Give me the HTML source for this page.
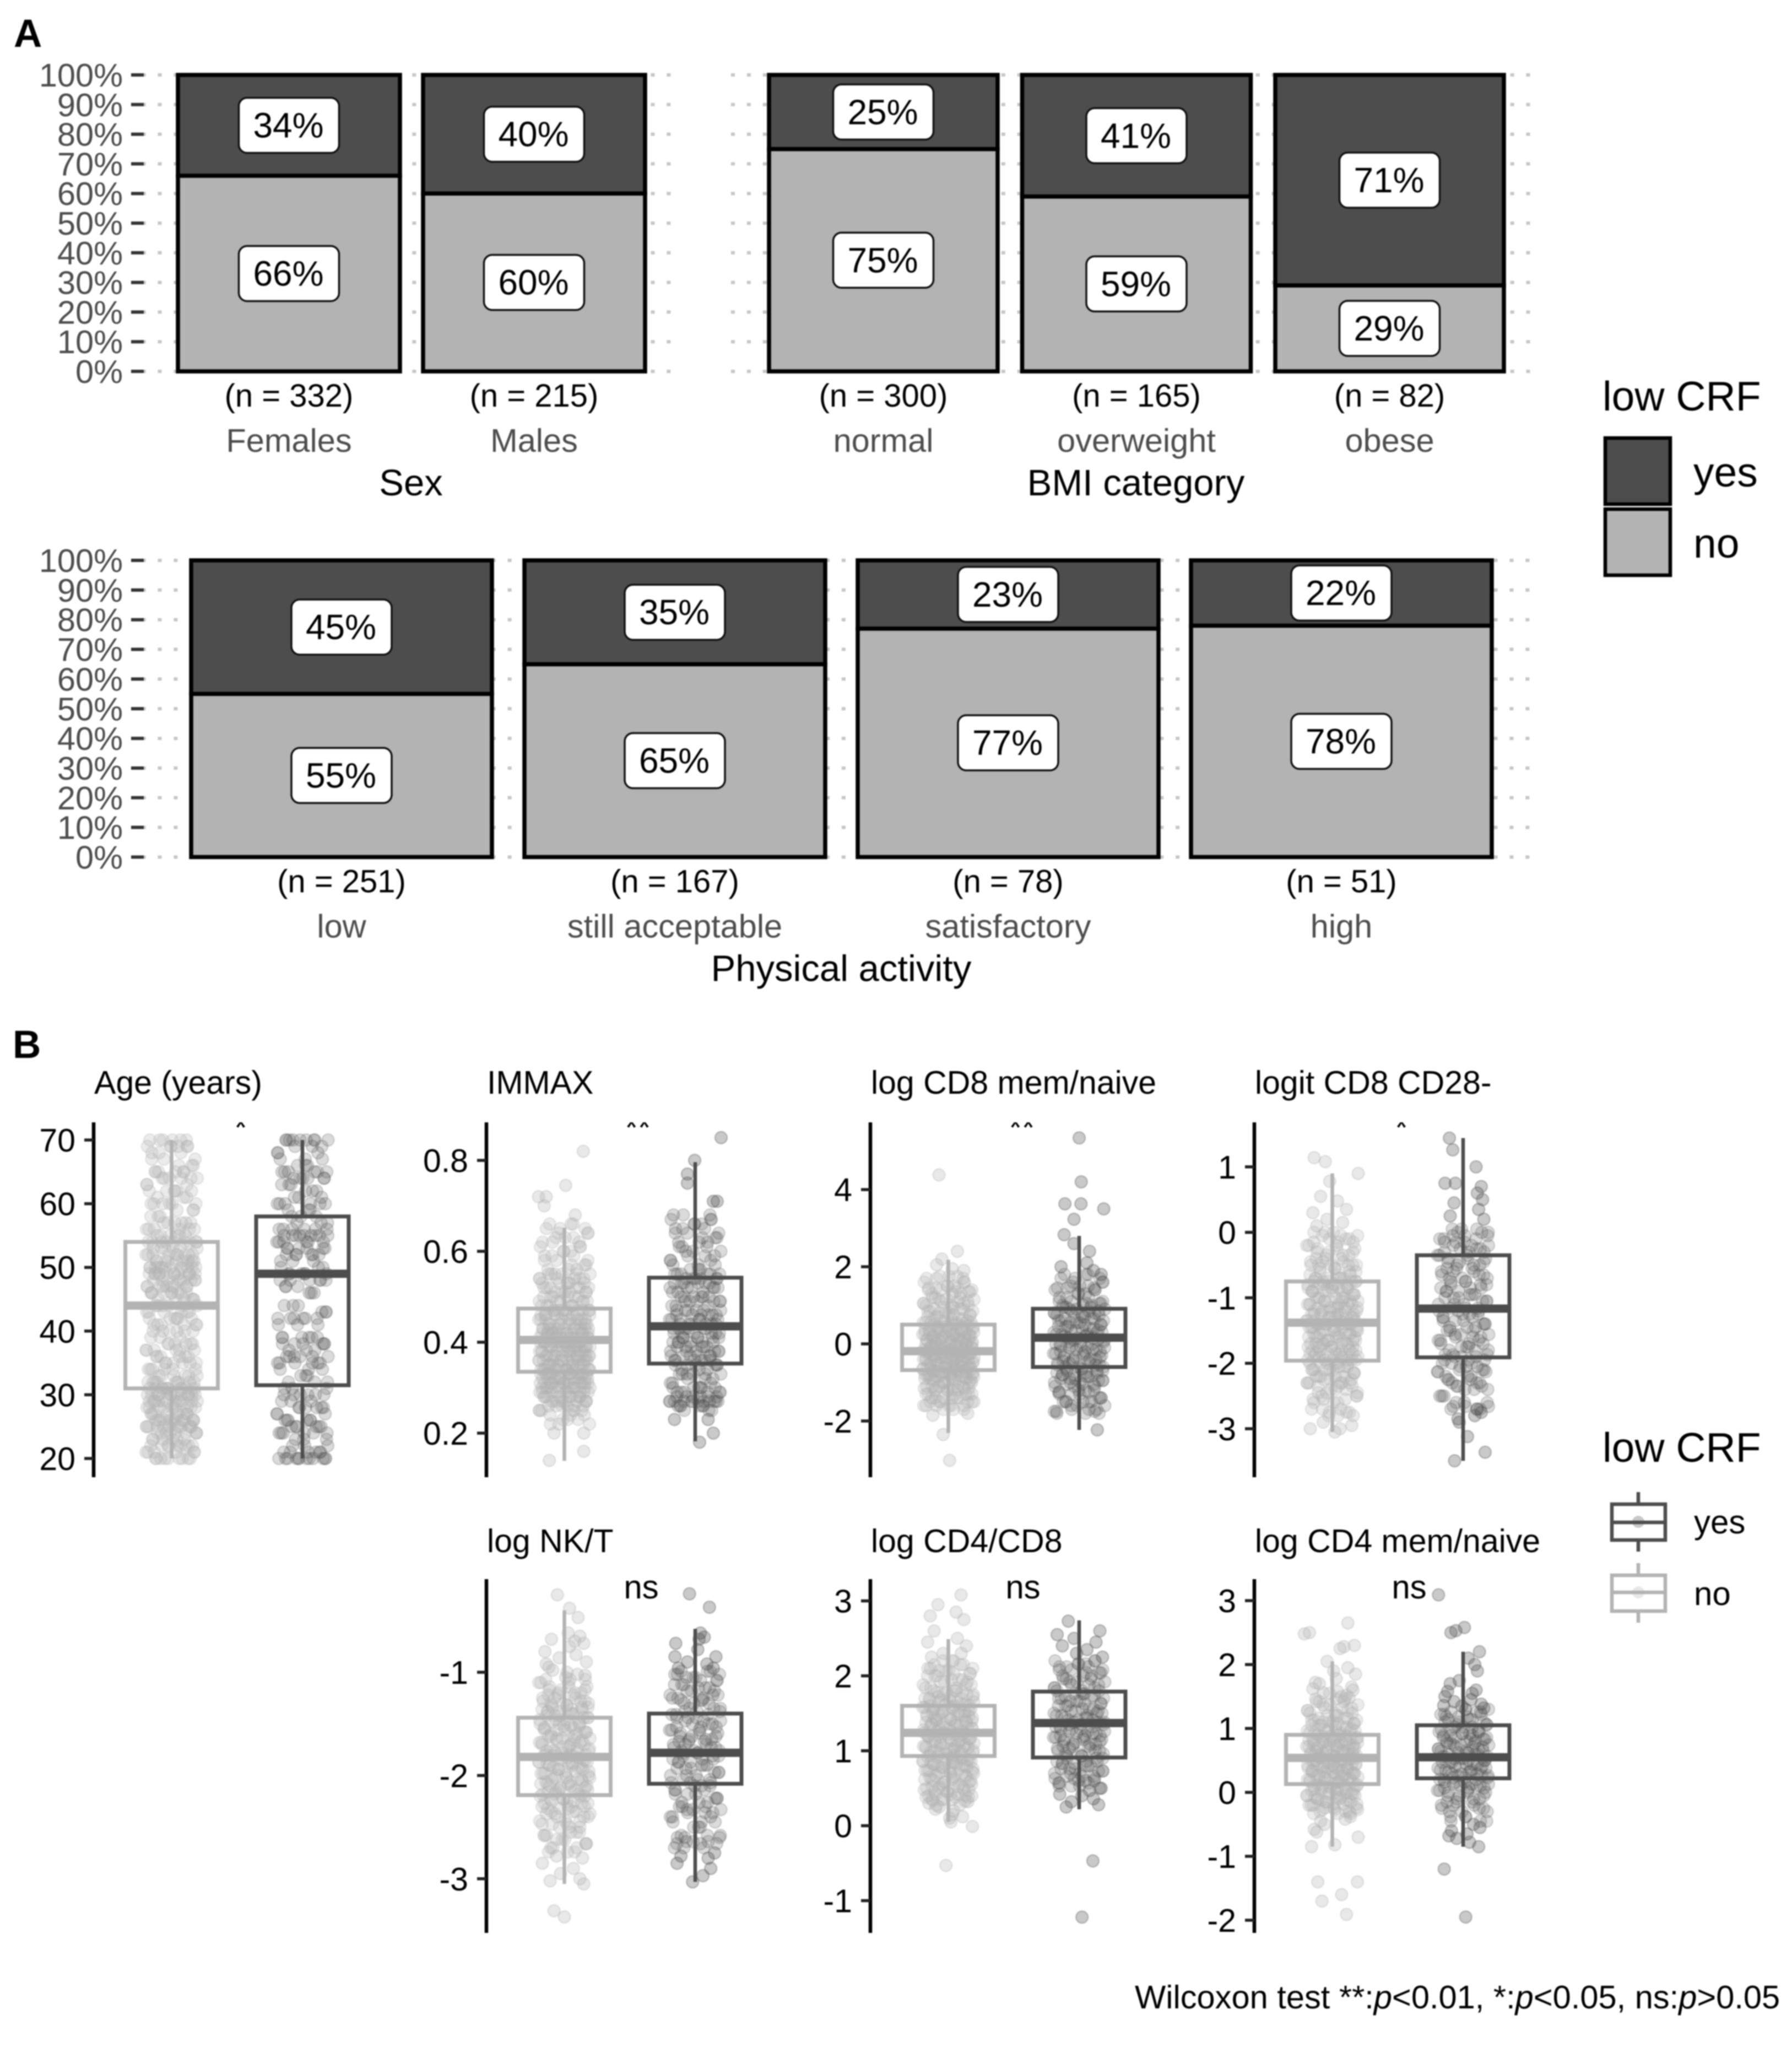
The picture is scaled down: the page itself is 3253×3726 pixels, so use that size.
<!DOCTYPE html>
<html lang="en">
<head>
<meta charset="utf-8">
<title>Low CRF figure</title>
<style>
html,body{margin:0;padding:0;background:#fff;}
svg{display:block;filter:blur(1.1px);}
text{font-family:"Liberation Sans",sans-serif;}
</style>
</head>
<body>
<svg id="figure" xmlns="http://www.w3.org/2000/svg" width="3253" height="3726" viewBox="0 0 3253 3726">
<rect x="0" y="0" width="3253" height="3726" fill="#fff"/>
<text x="25" y="85" font-size="71" font-weight="bold">A</text>
<text x="23" y="1920" font-size="71" font-weight="bold">B</text>

<g>
<text x="2909" y="745" font-size="75">low CRF</text>
<rect x="2914" y="795" width="118" height="120" fill="#4d4d4d" stroke="#000" stroke-width="6.5"/>
<rect x="2914" y="924" width="118" height="120" fill="#b3b3b3" stroke="#000" stroke-width="6.5"/>
<text x="3074" y="883" font-size="75">yes</text>
<text x="3074" y="1012" font-size="75">no</text>
</g>

<g>
<text x="2909" y="2653" font-size="75">low CRF</text>
<g fill="none" stroke="#4d4d4d" stroke-width="6.5">
<line x1="2974" y1="2708" x2="2974" y2="2728"/><line x1="2974" y1="2796" x2="2974" y2="2816"/>
<circle cx="2974" cy="2762" r="11" fill="#4d4d4d" fill-opacity=".3" stroke="none"/>
<rect x="2926" y="2730" width="97" height="65"/><line x1="2926" y1="2763" x2="3023" y2="2763"/>
</g>
<g fill="none" stroke="#b3b3b3" stroke-width="6.5">
<line x1="2974" y1="2837" x2="2974" y2="2857"/><line x1="2974" y1="2925" x2="2974" y2="2945"/>
<circle cx="2974" cy="2890" r="11" fill="#b3b3b3" fill-opacity=".3" stroke="none"/>
<rect x="2926" y="2859" width="97" height="65"/><line x1="2926" y1="2890" x2="3023" y2="2890"/>
</g>
<text x="3075" y="2783" font-size="60">yes</text>
<text x="3075" y="2913" font-size="60">no</text>
</g>

<text x="2060" y="3645" font-size="59.6">Wilcoxon test **:<tspan font-style="italic">p</tspan>&lt;0.01, *:<tspan font-style="italic">p</tspan>&lt;0.05, ns:<tspan font-style="italic">p</tspan>&gt;0.05</text>
</svg>

<script>
// ---------- Panel A data ----------
const pctTicks = [0,10,20,30,40,50,60,70,80,90,100];
const pctTickLabels = ['0%','10%','20%','30%','40%','50%','60%','70%','80%','90%','100%'];

const sexCategories = ['Females','Males'];
const sexCounts = ['(n = 332)','(n = 215)'];
const sexYesPct = [34,40];

const bmiCategories = ['normal','overweight','obese'];
const bmiCounts = ['(n = 300)','(n = 165)','(n = 82)'];
const bmiYesPct = [25,41,71];

const activityCategories = ['low','still acceptable','satisfactory','high'];
const activityCounts = ['(n = 251)','(n = 167)','(n = 78)','(n = 51)'];
const activityYesPct = [45,35,23,22];

// ---------- Panel B data ----------
// Horizontal jitter read as fractions of the jitter band, shared between groups.
const jitterFractions = [-.62,.41,-.13,.87,-.91,.22,.66,-.38,.05,-.74,.95,-.21,.53,-.55,.31,-.97,.74,.12,-.44,.83,-.08,-.69,.47,.2,-.86,.6,-.29,.99,-.5,.15,.78,-.77,.36,-.02,-.93,.57,-.33,.9,-.16,.26,-.65,.7,-.47,.09,.93,-.82,.43,-.25,.64,-.59,.18,-.99,.81,-.11,.33,-.71,.5,-.4,.97,-.06,.24,-.88,.68,-.31,.39,-.52,.85,.02,-.79,.58,-.19,.11,-.95,.75,-.36,.45,-.64,.28,.91,-.48,-.04,.62,-.84,.35,-.23,.8,-.57,.16,-.72,.52,.98,-.27,-.9,.07,.72,-.42,.3,-.67,.88,-.14,.55,-.8,.21,-.34,.94,-.54,.13,.77,-.96,.38,-.09,-.61,.48,.84,-.3,-.76,.25,.6,-.46,.03,.92,-.7,.34,-.18,-.86,.67,.1,-.53,.79,-.37];
// Each listed value stands for about this many participants at that level.
const participantsPerValue = 3;

const ageTicks = [20,30,40,50,60,70];
const ageTickLabels = ['20','30','40','50','60','70'];
const ageNoBox = [20,31,44,54,70];
const ageYesBox = [20,31.5,49,58,70];
const ageNoValues = [20,20,20,21,21,22,22,22,23,23,24,24,24,25,25,25,25,26,26,26,26,27,27,27,28,28,28,29,29,29,29,30,30,30,30,31,31,31,31,32,32,32,33,33,34,34,35,35,36,36,37,37,38,38,39,40,40,41,41,42,42,43,43,44,44,45,45,46,46,46,47,47,47,48,48,48,49,49,49,49,50,50,50,50,51,51,51,52,52,52,53,53,54,54,54,55,55,56,56,57,57,58,59,60,60,61,62,62,63,64,64,65,65,66,67,68,69,69,70,70];
const ageYesValues = [20,20,20,20,21,21,22,23,24,24,25,25,26,26,27,28,28,29,30,30,31,32,33,34,35,35,36,36,37,38,38,39,39,41,42,42,43,44,46,47,48,48,49,49,50,51,52,52,53,53,54,54,55,55,55,56,56,57,58,59,60,60,61,62,63,64,64,65,65,66,67,68,69,70,70,70];
const ageNoExtremeJitter = [];
const ageNoExtremeValues = [];
const ageYesExtremeJitter = [];
const ageYesExtremeValues = [];

const immaxTicks = [.2,.4,.6,.8];
const immaxTickLabels = ['0.2','0.4','0.6','0.8'];
const immaxNoBox = [.139,.335,.405,.474,.652];
const immaxYesBox = [.182,.353,.435,.542,.796];
const immaxNoValues = [.22,.23,.24,.25,.25,.26,.26,.27,.27,.27,.28,.28,.28,.29,.29,.29,.30,.30,.30,.30,.31,.31,.31,.31,.32,.32,.32,.32,.33,.33,.33,.33,.34,.34,.34,.34,.35,.35,.35,.35,.36,.36,.36,.36,.37,.37,.37,.37,.38,.38,.38,.38,.39,.39,.39,.39,.40,.40,.40,.40,.40,.41,.41,.41,.41,.42,.42,.42,.42,.43,.43,.43,.43,.44,.44,.44,.45,.45,.45,.46,.46,.46,.47,.47,.47,.48,.48,.49,.49,.50,.50,.51,.51,.52,.52,.53,.53,.54,.54,.55,.55,.56,.57,.58,.59,.60,.61,.62,.63,.64,.65,.66];
const immaxYesValues = [.25,.26,.26,.27,.27,.27,.27,.28,.28,.29,.29,.30,.30,.31,.32,.33,.33,.34,.35,.35,.36,.36,.37,.37,.38,.38,.39,.39,.40,.40,.41,.41,.42,.42,.43,.43,.44,.44,.45,.45,.46,.46,.47,.47,.48,.49,.49,.50,.50,.51,.52,.52,.53,.53,.54,.54,.55,.55,.56,.57,.58,.59,.60,.61,.62,.63,.64,.65,.66,.67,.68];
const immaxNoExtremeJitter = [.73,.05,-1,-.7,-.78,.42,-.58,-.4,.75,.75];
const immaxNoExtremeValues = [.82,.745,.72,.72,.70,.68,.14,.2,.16,.2];
const immaxYesExtremeJitter = [1,-.02,-.3,-.3,.7,.17,-.8,.5,.7,.85];
const immaxYesExtremeValues = [.85,.8,.77,.75,.2,.18,.23,.23,.71,.71];

const cd8Ticks = [-2,0,2,4];
const cd8TickLabels = ['-2','0','2','4'];
const cd8NoBox = [-2.31,-.68,-.19,.5,2.18];
const cd8YesBox = [-2.23,-.6,.16,.91,2.8];
const cd8NoValues = [-1.7,-1.6,-1.6,-1.5,-1.5,-1.4,-1.4,-1.3,-1.3,-1.2,-1.2,-1.15,-1.1,-1.1,-1,-1,-.95,-.9,-.9,-.85,-.85,-.8,-.8,-.75,-.75,-.7,-.7,-.65,-.65,-.6,-.6,-.55,-.55,-.5,-.5,-.45,-.45,-.4,-.4,-.35,-.35,-.3,-.3,-.25,-.25,-.2,-.2,-.2,-.15,-.15,-.1,-.1,-.05,-.05,0,0,.05,.05,.1,.1,.15,.15,.2,.2,.25,.25,.3,.3,.35,.35,.4,.45,.45,.5,.55,.55,.6,.65,.7,.75,.8,.85,.9,.95,1,1.05,1.1,1.15,1.2,1.3,1.35,1.4,1.45,1.5,1.6,1.7,1.75];
const cd8YesValues = [-1.8,-1.75,-1.7,-1.6,-1.5,-1.5,-1.4,-1.3,-1.25,-1.2,-1.1,-1.05,-1,-.95,-.9,-.85,-.8,-.75,-.7,-.65,-.6,-.55,-.5,-.45,-.4,-.35,-.3,-.25,-.2,-.15,-.1,-.05,0,.05,.1,.15,.2,.25,.3,.35,.4,.45,.5,.55,.6,.65,.7,.75,.8,.85,.9,.95,1,1.05,1.1,1.2,1.3,1.4,1.45,1.5,1.6,1.7,1.8];
const cd8NoExtremeJitter = [-.36,.05,-.2,-.25,.35,-.45,.6,.15,-.6,.75];
const cd8NoExtremeValues = [4.38,-3.02,-2.35,2.2,2.4,2.05,1.9,1.95,-1.85,-1.8];
const cd8YesExtremeJitter = [0,.08,-.55,.07,.95,-.2,-.58,.7,.4,.3,-.7,.55,-.2,.85];
const cd8YesExtremeValues = [5.34,4.2,3.63,3.63,3.5,3.23,2.83,-2.23,2.4,2.1,2,1.9,2.6,1.8];

const cd28Ticks = [-3,-2,-1,0,1];
const cd28TickLabels = ['-3','-2','-1','0','1'];
const cd28NoBox = [-3.05,-1.96,-1.38,-.75,.9];
const cd28YesBox = [-3.49,-1.91,-1.165,-.35,1.44];
const cd28NoValues = [-2.8,-2.75,-2.7,-2.6,-2.55,-2.5,-2.45,-2.4,-2.35,-2.3,-2.3,-2.25,-2.2,-2.2,-2.15,-2.1,-2.1,-2.05,-2,-2,-1.95,-1.95,-1.9,-1.9,-1.85,-1.85,-1.8,-1.8,-1.75,-1.75,-1.7,-1.7,-1.65,-1.65,-1.6,-1.6,-1.55,-1.55,-1.5,-1.5,-1.45,-1.45,-1.4,-1.4,-1.4,-1.35,-1.35,-1.3,-1.3,-1.25,-1.25,-1.2,-1.2,-1.15,-1.15,-1.1,-1.1,-1.05,-1.05,-1,-1,-.95,-.9,-.9,-.85,-.85,-.8,-.8,-.75,-.75,-.7,-.7,-.65,-.6,-.55,-.5,-.5,-.45,-.4,-.35,-.3,-.25,-.2,-.15,-.1,-.05,0];
const cd28YesValues = [-2.7,-2.66,-2.6,-2.5,-2.4,-2.35,-2.3,-2.25,-2.2,-2.13,-2.1,-2.05,-2,-1.95,-1.9,-1.87,-1.8,-1.75,-1.7,-1.65,-1.6,-1.56,-1.5,-1.45,-1.4,-1.35,-1.3,-1.25,-1.2,-1.16,-1.1,-1.05,-1,-.95,-.9,-.85,-.8,-.75,-.7,-.65,-.6,-.55,-.5,-.45,-.4,-.35,-.3,-.25,-.2,-.15,-.1,-.05,0,.05];
const cd28NoExtremeJitter = [-.7,-.27,1,-.1,-.45,.2,-.75,.55,-.2,.4,-.6,.1,-.85,.3,.75,-.35];
const cd28NoExtremeValues = [1.14,1.08,.9,.78,.55,.48,.3,.35,.2,.15,.1,-3.05,-3,-3,-2.95,-2.9];
const cd28YesExtremeJitter = [-.53,-.4,.5,-.7,-.3,-.33,.85,.17,.7,.55,-.35,.75,-.5,.6,.8,-.2,.45,.7,-.15,.55];
const cd28YesExtremeValues = [1.44,1.26,1,.75,.75,-3.49,-3.36,-3.12,.7,.6,.45,.5,.25,.35,.2,-2.85,-2.8,-2.75,-2.9,-2.7];

const nkTicks = [-3,-2,-1];
const nkTickLabels = ['-3','-2','-1'];
const nkNoBox = [-3.05,-2.19,-1.82,-1.44,-.4];
const nkYesBox = [-3.03,-2.08,-1.78,-1.4,-.58];
const nkNoValues = [-2.74,-2.7,-2.66,-2.62,-2.58,-2.55,-2.5,-2.47,-2.44,-2.4,-2.37,-2.35,-2.32,-2.3,-2.27,-2.25,-2.23,-2.2,-2.18,-2.16,-2.14,-2.12,-2.1,-2.08,-2.06,-2.04,-2.02,-2,-1.98,-1.96,-1.94,-1.92,-1.9,-1.88,-1.87,-1.85,-1.83,-1.81,-1.8,-1.78,-1.76,-1.74,-1.72,-1.7,-1.68,-1.66,-1.64,-1.62,-1.6,-1.58,-1.56,-1.54,-1.52,-1.5,-1.48,-1.46,-1.44,-1.42,-1.4,-1.38,-1.36,-1.34,-1.32,-1.3,-1.28,-1.25,-1.22,-1.2,-1.17,-1.14,-1.1,-1.07];
const nkYesValues = [-2.7,-2.66,-2.64,-2.6,-2.58,-2.5,-2.45,-2.4,-2.36,-2.33,-2.3,-2.26,-2.22,-2.18,-2.14,-2.1,-2.07,-2.04,-2,-1.97,-1.93,-1.9,-1.87,-1.84,-1.81,-1.78,-1.76,-1.73,-1.7,-1.67,-1.65,-1.62,-1.59,-1.56,-1.53,-1.5,-1.47,-1.44,-1.41,-1.38,-1.35,-1.3,-1.27,-1.25,-1.22,-1.18,-1.15,-1.12,-1.08,-1.05,-1.02,-.99];
const nkNoExtremeJitter = [-.27,.2,.53,-.4,0,.6,-.5,.75,.2,-.75,.45,-.2,.85,-.6,.1,.5,.7,-.85,.35,-.15,.6,-.55,.75,-.3,.15,.4,-.7,.05,.8,-.45];
const nkNoExtremeValues = [-.25,-.38,-.47,-3.31,-3.37,-.65,-.68,-.72,-.75,-.8,-.83,-.86,-.9,-.95,-1,-1.02,-2.8,-2.85,-2.9,-2.95,-3,-3.02,-3.05,-2.78,-.62,-.7,-.92,-1.05,-1.03,-.98];
const nkYesExtremeJitter = [-.22,.55,-.75,-.78,.2,.8,-.3,.1,-.65,.7,-.1,-.7,.6,.3,.5,.75,-.55,.15,.35,.45];
const nkYesExtremeValues = [-.24,-.37,-.72,-.85,-.62,-.85,-.9,-.78,-.96,-.96,-3.03,-2.85,-2.9,-2.97,-2.8,-2.75,-2.78,-.68,-.66,-.92];

const ratioTicks = [-1,0,1,2,3];
const ratioTickLabels = ['-1','0','1','2','3'];
const ratioNoBox = [.05,.93,1.24,1.6,2.49];
const ratioYesBox = [.22,.91,1.37,1.79,2.74];
const ratioNoValues = [.35,.38,.4,.42,.45,.48,.5,.52,.55,.58,.6,.62,.65,.67,.7,.72,.74,.76,.78,.8,.82,.84,.86,.88,.9,.92,.94,.96,.98,1,1.02,1.04,1.06,1.08,1.1,1.12,1.14,1.16,1.18,1.2,1.22,1.24,1.26,1.28,1.3,1.32,1.34,1.36,1.38,1.4,1.42,1.44,1.46,1.48,1.5,1.52,1.54,1.56,1.58,1.6,1.62,1.65,1.68,1.7,1.72,1.75,1.78,1.8,1.84,1.88,1.92,1.95,2,2.03,2.07,2.1,2.15,2.2];
const ratioYesValues = [.5,.53,.57,.6,.63,.66,.7,.73,.76,.8,.83,.86,.9,.93,.96,1,1.03,1.06,1.09,1.12,1.15,1.18,1.2,1.23,1.26,1.29,1.32,1.35,1.38,1.41,1.44,1.47,1.5,1.53,1.56,1.6,1.63,1.66,1.7,1.73,1.76,1.8,1.84,1.88,1.92,1.96,2,2.04,2.08,2.12,2.16,2.2];
const ratioNoExtremeJitter = [.49,-.09,.93,.1,-.4,.3,-.7,.6,-.55,.35,-.8,.7,-.2,.5,-.65,.2,-.35,-.75,.75,.45,-.5,.15,-.6,.55,-.25,.65,-.45,.05];
const ratioNoExtremeValues = [3.08,-.53,-.01,.05,2.95,2.85,2.8,2.75,2.6,2.5,2.45,2.4,2.3,2.3,2.25,.2,.25,.3,.32,.28,.22,.15,.34,.12,.35,.33,.27,.1];
const ratioYesExtremeJitter = [.53,.11,-.42,.8,-.85,-.2,.65,-.65,.3,-.5,.75,-.3,.55,.1,-.75,.4,-.1,.9];
const ratioYesExtremeValues = [-.47,-1.22,2.73,2.6,2.55,2.5,2.45,2.4,2.35,.25,.28,.32,.36,.4,.42,.47,2.3,2.25];

const cd4Ticks = [-2,-1,0,1,2,3];
const cd4TickLabels = ['-2','-1','0','1','2','3'];
const cd4NoBox = [-.85,.13,.54,.9,2.05];
const cd4YesBox = [-.85,.22,.55,1.05,2.2];
const cd4NoValues = [-.33,-.3,-.27,-.24,-.2,-.18,-.15,-.12,-.1,-.07,-.05,-.02,0,.03,.05,.08,.1,.12,.15,.17,.2,.22,.24,.26,.28,.3,.32,.34,.36,.38,.4,.42,.44,.46,.48,.5,.52,.54,.56,.58,.6,.62,.64,.66,.68,.7,.72,.74,.76,.78,.8,.82,.84,.86,.88,.9,.93,.96,.99,1.02,1.05,1.08,1.1,1.13,1.16,1.2,1.24,1.28,1.32,1.37,1.42,1.46];
const cd4YesValues = [-.45,-.38,-.3,-.25,-.2,-.15,-.1,-.05,0,.03,.07,.1,.13,.16,.2,.23,.26,.29,.32,.35,.38,.41,.44,.47,.5,.53,.56,.59,.62,.65,.68,.71,.74,.77,.8,.83,.86,.89,.92,.95,.98,1.02,1.06,1.1,1.14,1.18,1.22,1.26,1.3];
const cd4NoExtremeJitter = [-.56,.97,.36,-.4,.55,-.88,-1.08,.6,1,-.8,-.6,-.7,-.3,.1,-.45,.5,.7,.85,.3,.45,-.2,.6,.9,.15,-.5,.75,-.75,.2,-.1,.35,.8,-.65,.05,.55,-.35,.65];
const cd4NoExtremeValues = [-1.4,-1.4,-1.6,-1.7,-1.91,2.5,2.48,2.65,-.7,-.85,-.62,-.58,-.5,-.82,-.45,-.42,-.38,2.3,2.25,2.28,2.05,1.95,1.85,1.78,1.7,1.65,1.62,1.58,1.55,1.5,1.6,1.72,1.9,1.52,1.56,1.48];
const cd4YesExtremeJitter = [-.95,.05,-.47,-.28,-.73,.1,.63,.2,.45,.55,-.15,-.5,.5,-.6,.35,-.7,.3,-.35,.7,-.05,.6,.25,-.55,.15,-.45,.4,.65,-.25,.8,-.75];
const cd4YesExtremeValues = [3.09,2.58,2.5,2.53,-1.2,-1.95,2.2,2.1,2,1.9,1.75,1.7,1.6,1.58,1.55,1.5,1.45,1.42,1.38,1.35,-.85,-.78,-.68,-.65,-.6,-.5,-.55,-.72,1.32,1.36];

// ---------- Drawing helpers ----------
const svg = document.getElementById('figure');
const NS = 'http://www.w3.org/2000/svg';

function make(tag, attrs, parent, content) {
  const node = document.createElementNS(NS, tag);
  for (const k in attrs) node.setAttribute(k, attrs[k]);
  if (content !== undefined) node.textContent = content;
  parent.appendChild(node);
  return node;
}

function drawStackedPanel(key, categories, counts, yesPct, axisTitle, layout) {
  const group = make('g', {}, svg);
  
  
  const yScale = v => layout.y0 - v * layout.perPct;

  pctTicks.forEach((t, i) => {
    const grid = make('line', {x1: layout.gridStart, x2: layout.gridEnd, y1: yScale(t), y2: yScale(t), stroke: '#c6c6c6', 'stroke-width': 6, 'stroke-dasharray': '7 21.87'}, group);
    
    
    if (layout.showAxis) {
      const tick = make('line', {x1: 238, x2: 261, y1: yScale(t), y2: yScale(t), stroke: '#333', 'stroke-width': 6}, group);
      
      
      const lab = make('text', {x: 223, y: yScale(t) + 21, 'font-size': 59.5, 'text-anchor': 'end', fill: '#4d4d4d'}, group, pctTickLabels[i]);
      
      
    }
  });

  categories.forEach((cat, i) => {
    const left = layout.x0 + i * layout.step;
    const mid = left + layout.width / 2;
    const yes = yesPct[i];
    const no = 100 - yes;
    const noBar = make('rect', {x: left, y: yScale(no), width: layout.width, height: yScale(0) - yScale(no), fill: '#b3b3b3', stroke: '#000', 'stroke-width': 7.5}, group);
    
    
    const yesBar = make('rect', {x: left, y: yScale(100), width: layout.width, height: yScale(no) - yScale(100), fill: '#4d4d4d', stroke: '#000', 'stroke-width': 7.5}, group);
    
    

    [[no, (0 + no) / 2], [yes, (no + 100) / 2]].forEach(([val, centre]) => {
      const cy = yScale(centre);
      const box = make('rect', {x: mid - 91, y: cy - 50, width: 182, height: 100, rx: 15, ry: 15, fill: '#fff', stroke: '#111', 'stroke-width': 3.5}, group);
      
      
      const txt = make('text', {x: mid - 1, y: cy + 22, 'font-size': 64, 'text-anchor': 'middle', fill: '#000'}, group, val + '%');
      
      
    });

    const n = make('text', {x: mid, y: layout.y0 + 64, 'font-size': 58, 'text-anchor': 'middle', fill: '#000'}, group, counts[i]);
    
    
    const c = make('text', {x: mid, y: layout.y0 + 146, 'font-size': 59.5, 'text-anchor': 'middle', fill: '#4d4d4d'}, group, cat);
    
    
  });

  const title = make('text', {x: layout.titleX, y: layout.y0 + 225, 'font-size': 67, 'text-anchor': 'middle', fill: '#000'}, group, axisTitle);
  
  
}

function drawGroup(parent, label, colour, centre, yScale, box, values, extremeJitter, extremeValues, jitterStart, bodyAlpha) {
  const group = make('g', {}, parent);
  
  
  const band = 47;
  const addPoint = (frac, v, alpha) => {
    const p = make('circle', {cx: centre + frac * band, cy: yScale(v), r: 11, fill: colour, 'fill-opacity': alpha, stroke: colour, 'stroke-opacity': alpha, 'stroke-width': 2.5}, group);
    
    
  };
  for (let copy = 0; copy < participantsPerValue; copy++) {
    values.forEach((v, i) => addPoint(jitterFractions[(i + jitterStart + copy * 47) % jitterFractions.length], v, bodyAlpha));
  }
  extremeValues.forEach((v, i) => addPoint(extremeJitter[i], v, .3));

  const [lo, q1, med, q3, hi] = box;
  const halfWidth = 84;
  const upper = make('line', {x1: centre, x2: centre, y1: yScale(q3), y2: yScale(hi), stroke: colour, 'stroke-width': 6.5}, group);
  
  
  const lower = make('line', {x1: centre, x2: centre, y1: yScale(q1), y2: yScale(lo), stroke: colour, 'stroke-width': 6.5}, group);
  
  
  const rect = make('rect', {x: centre - halfWidth, y: yScale(q3), width: 2 * halfWidth, height: yScale(q1) - yScale(q3), fill: 'none', stroke: colour, 'stroke-width': 7}, group);
  
  
  const median = make('line', {x1: centre - halfWidth, x2: centre + halfWidth, y1: yScale(med), y2: yScale(med), stroke: colour, 'stroke-width': 15}, group);
  
  
}

function drawBoxPanel(key, title, sig, axisX, top, bottom, titleY, sigX, anchor, ticks, tickLabels, noSet, yesSet, jitterStart) {
  const group = make('g', {}, svg);
  
  
  const yScale = v => anchor.y - (v - anchor.value) * anchor.perUnit;

  const t = make('text', {x: axisX + 1, y: titleY + 1, 'font-size': 59, fill: '#000'}, group, title);
  
  

  drawGroup(group, 'no', '#b3b3b3', axisX + 141.5, yScale, noSet.box, noSet.values, noSet.jitter, noSet.extremes, jitterStart, .26);
  drawGroup(group, 'yes', '#4d4d4d', axisX + 379, yScale, yesSet.box, yesSet.values, yesSet.jitter, yesSet.extremes, jitterStart + 37, .2);

  const axis = make('line', {x1: axisX, x2: axisX, y1: top, y2: bottom, stroke: '#000', 'stroke-width': 6.5}, group);
  
  
  ticks.forEach((v, i) => {
    const tick = make('line', {x1: axisX - 17, x2: axisX, y1: yScale(v), y2: yScale(v), stroke: '#222', 'stroke-width': 5.5}, group);
    
    
    const lab = make('text', {x: axisX - 33, y: yScale(v) + 21, 'font-size': 59, 'text-anchor': 'end', fill: '#000'}, group, tickLabels[i]);
    
    
  });

  const clip = make('clipPath', {id: 'clip-' + key}, group);
  make('rect', {x: axisX, y: top, width: 690, height: bottom - top}, clip);
  const s = make('text', {x: sigX, y: top + (sig === 'ns' ? 35 : 30), 'font-size': 60, 'text-anchor': 'middle', fill: '#000', 'clip-path': 'url(#clip-' + key + ')'}, group, sig);
  
  
}

// ---------- Panel A ----------
drawStackedPanel('sex', sexCategories, sexCounts, sexYesPct, 'Sex',
  {x0: 323, step: 445, width: 403, y0: 674, perPct: 5.38, gridStart: 257.6, gridEnd: 1220, titleX: 746, showAxis: true});
drawStackedPanel('bmi', bmiCategories, bmiCounts, bmiYesPct, 'BMI category',
  {x0: 1396, step: 459.5, width: 415, y0: 674, perPct: 5.38, gridStart: 1327, gridEnd: 2782, titleX: 2062, showAxis: false});
drawStackedPanel('activity', activityCategories, activityCounts, activityYesPct, 'Physical activity',
  {x0: 347, step: 605, width: 546, y0: 1555.5, perPct: 5.385, gridStart: 257.6, gridEnd: 2780, titleX: 1527, showAxis: true});

// ---------- Panel B ----------
drawBoxPanel('age', 'Age (years)', '*', 170, 2037, 2681, 1984, 437,
  {value: 20, y: 2647, perUnit: 11.56}, ageTicks, ageTickLabels,
  {box: ageNoBox, values: ageNoValues, jitter: ageNoExtremeJitter, extremes: ageNoExtremeValues},
  {box: ageYesBox, values: ageYesValues, jitter: ageYesExtremeJitter, extremes: ageYesExtremeValues}, 0);
drawBoxPanel('immax', 'IMMAX', '**', 883, 2037, 2681, 1984, 1158,
  {value: .4, y: 2436, perUnit: 825}, immaxTicks, immaxTickLabels,
  {box: immaxNoBox, values: immaxNoValues, jitter: immaxNoExtremeJitter, extremes: immaxNoExtremeValues},
  {box: immaxYesBox, values: immaxYesValues, jitter: immaxYesExtremeJitter, extremes: immaxYesExtremeValues}, 11);
drawBoxPanel('cd8-mem-naive', 'log CD8 mem/naive', '**', 1580, 2037, 2681, 1984, 1855,
  {value: 0, y: 2439, perUnit: 70}, cd8Ticks, cd8TickLabels,
  {box: cd8NoBox, values: cd8NoValues, jitter: cd8NoExtremeJitter, extremes: cd8NoExtremeValues},
  {box: cd8YesBox, values: cd8YesValues, jitter: cd8YesExtremeJitter, extremes: cd8YesExtremeValues}, 23);
drawBoxPanel('cd8-cd28', 'logit CD8 CD28-', '*', 2277, 2037, 2681, 1984, 2544,
  {value: 0, y: 2236.6, perUnit: 118.8}, cd28Ticks, cd28TickLabels,
  {box: cd28NoBox, values: cd28NoValues, jitter: cd28NoExtremeJitter, extremes: cd28NoExtremeValues},
  {box: cd28YesBox, values: cd28YesValues, jitter: cd28YesExtremeJitter, extremes: cd28YesExtremeValues}, 5);
drawBoxPanel('nk-t', 'log NK/T', 'ns', 883, 2866, 3508, 2816, 1164,
  {value: -1, y: 3035, perUnit: 187.4}, nkTicks, nkTickLabels,
  {box: nkNoBox, values: nkNoValues, jitter: nkNoExtremeJitter, extremes: nkNoExtremeValues},
  {box: nkYesBox, values: nkYesValues, jitter: nkYesExtremeJitter, extremes: nkYesExtremeValues}, 17);
drawBoxPanel('cd4-cd8', 'log CD4/CD8', 'ns', 1580, 2866, 3508, 2816, 1857,
  {value: 0, y: 3313.5, perUnit: 136}, ratioTicks, ratioTickLabels,
  {box: ratioNoBox, values: ratioNoValues, jitter: ratioNoExtremeJitter, extremes: ratioNoExtremeValues},
  {box: ratioYesBox, values: ratioYesValues, jitter: ratioYesExtremeJitter, extremes: ratioYesExtremeValues}, 29);
drawBoxPanel('cd4-mem-naive', 'log CD4 mem/naive', 'ns', 2277, 2866, 3508, 2816, 2558,
  {value: 0, y: 3253, perUnit: 116}, cd4Ticks, cd4TickLabels,
  {box: cd4NoBox, values: cd4NoValues, jitter: cd4NoExtremeJitter, extremes: cd4NoExtremeValues},
  {box: cd4YesBox, values: cd4YesValues, jitter: cd4YesExtremeJitter, extremes: cd4YesExtremeValues}, 41);
</script>
</body>
</html>
